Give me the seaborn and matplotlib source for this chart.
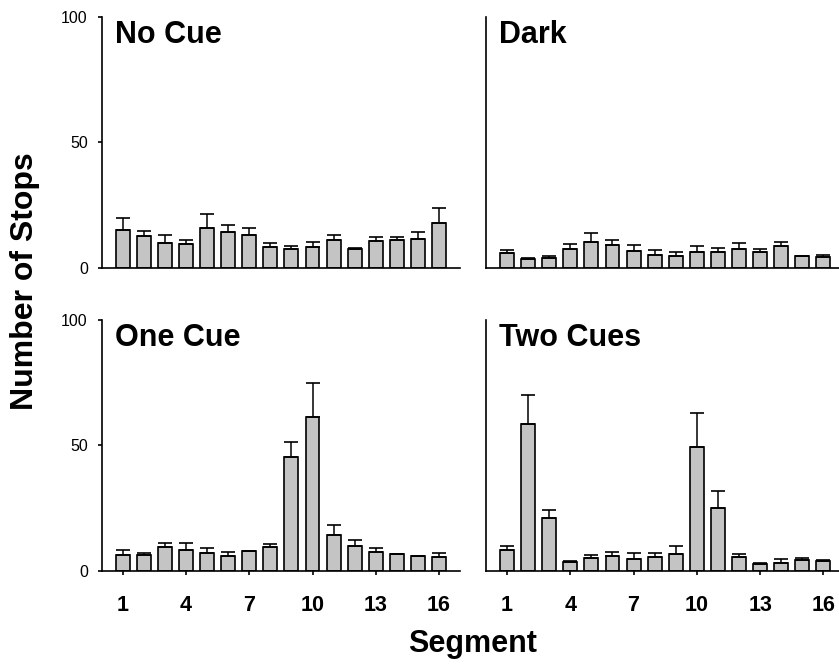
import numpy as np
import pandas as pd
import matplotlib
matplotlib.use("Agg")
import matplotlib.pyplot as plt
import seaborn as sns

# ---------------- data ----------------
segments = list(range(1, 17))
tick_segments = [1, 4, 7, 10, 13, 16]
y_ticks = [0, 50, 100]
conditions = ["No Cue", "Dark", "One Cue", "Two Cues"]

no_cue_mean = [15.0, 12.6, 9.8, 9.4, 15.8, 14.2, 13.0, 8.2, 7.4, 8.2, 11.2, 7.4, 10.6, 11.2, 11.6, 17.9]
no_cue_sem = [4.9, 2.0, 3.2, 1.8, 5.4, 2.8, 2.7, 1.6, 1.1, 1.9, 1.8, 0.6, 1.6, 1.0, 2.6, 5.7]

dark_mean = [5.7, 3.3, 4.0, 7.4, 10.1, 9.0, 6.5, 5.2, 4.8, 6.2, 6.2, 7.4, 6.1, 8.6, 4.6, 4.1]
dark_sem = [1.3, 0.7, 0.8, 2.0, 3.7, 2.0, 2.4, 1.7, 1.6, 2.3, 1.5, 2.4, 1.3, 1.6, 0.2, 1.1]

one_cue_mean = [6.1, 6.1, 9.4, 8.2, 7.2, 5.7, 7.7, 9.6, 45.3, 61.4, 14.2, 9.8, 7.3, 6.5, 5.9, 5.3]
one_cue_sem = [2.0, 1.1, 1.5, 2.7, 1.7, 1.6, 0.3, 1.0, 5.8, 13.3, 4.0, 2.4, 1.7, 0.3, 0.1, 1.6]

two_cues_mean = [8.1, 58.3, 20.9, 3.6, 4.9, 5.7, 4.5, 5.4, 6.8, 49.4, 25.0, 5.3, 2.8, 3.2, 4.1, 3.7]
two_cues_sem = [1.6, 11.8, 3.3, 0.4, 1.2, 1.6, 2.4, 1.5, 2.9, 13.3, 6.7, 1.5, 0.3, 1.3, 0.8, 0.7]

means = [no_cue_mean, dark_mean, one_cue_mean, two_cues_mean]
sems = [no_cue_sem, dark_sem, one_cue_sem, two_cues_sem]

# ---------------- style ----------------
sns.set_style("ticks")
plt.rcParams["font.family"] = ["Liberation Sans", "DejaVu Sans"]
plt.rcParams["axes.linewidth"] = 1.2
plt.rcParams["axes.edgecolor"] = "black"
plt.rcParams["text.color"] = "black"
plt.rcParams["axes.labelcolor"] = "black"
plt.rcParams["xtick.color"] = "black"
plt.rcParams["ytick.color"] = "black"

BAR_COLOR = "#c4c4c4"

fig = plt.figure(figsize=(8.39, 6.65), dpi=100)

W, H = 839.0, 665.0
ax_w = 358.4 / W
ax_h = 251.0 / H
lefts = [101.7 / W, 486.0 / W]
bottoms = [1 - 267.7 / H, 1 - 570.7 / H]

positions = [(lefts[0], bottoms[0]), (lefts[1], bottoms[0]),
             (lefts[0], bottoms[1]), (lefts[1], bottoms[1])]

for i, (cond, m, s) in enumerate(zip(conditions, means, sems)):
    ax = fig.add_axes([positions[i][0], positions[i][1], ax_w, ax_h])
    df = pd.DataFrame({"Segment": segments, "Stops": m})
    sns.barplot(data=df, x="Segment", y="Stops", native_scale=True,
                color=BAR_COLOR, saturation=1, width=0.66,
                edgecolor="black", linewidth=1.2, errorbar=None, ax=ax)
    ax.errorbar(segments, m, yerr=[np.zeros(len(s)), s], fmt="none",
                ecolor="black", elinewidth=1.1, capsize=4.8, capthick=1.2,
                zorder=1)
    ax.set_xlim(0, 17)
    ax.set_ylim(0, 100)
    sns.despine(ax=ax)
    ax.set_xlabel("")
    ax.set_ylabel("")

    # y axis ticks only on left column
    if i % 2 == 0:
        ax.set_yticks(y_ticks)
        ax.set_yticklabels([str(v) for v in y_ticks], fontsize=11.5)
        ax.tick_params(axis="y", direction="out", length=3, width=1.2,
                       pad=7, colors="black")
    else:
        ax.set_yticks([])
        ax.tick_params(axis="y", left=False, labelleft=False)

    # x axis ticks only on bottom row
    if i >= 2:
        ax.set_xticks(tick_segments)
        ax.set_xticklabels([str(v) for v in tick_segments],
                           fontsize=15.5, fontweight="bold")
        ax.tick_params(axis="x", direction="out", length=3.2, width=1.2,
                       pad=14, colors="black")
    else:
        ax.set_xticks([])
        ax.tick_params(axis="x", bottom=False, labelbottom=False)

    ax.text(13.3 / 358.4, 1 - 3.5 / 251.0, cond, transform=ax.transAxes,
            ha="left", va="top", fontsize=22, fontweight="bold",
            color="black")

fig.text(25 / W, 1 - 281 / H, "Number of Stops", rotation=90,
         ha="center", va="center", fontsize=23, fontweight="bold",
         color="black")
fig.text(473 / W, 1 - 651.7 / H, "Segment", ha="center", va="baseline",
         fontsize=22, fontweight="bold", color="black")

fig.savefig("out.png", dpi=100)
